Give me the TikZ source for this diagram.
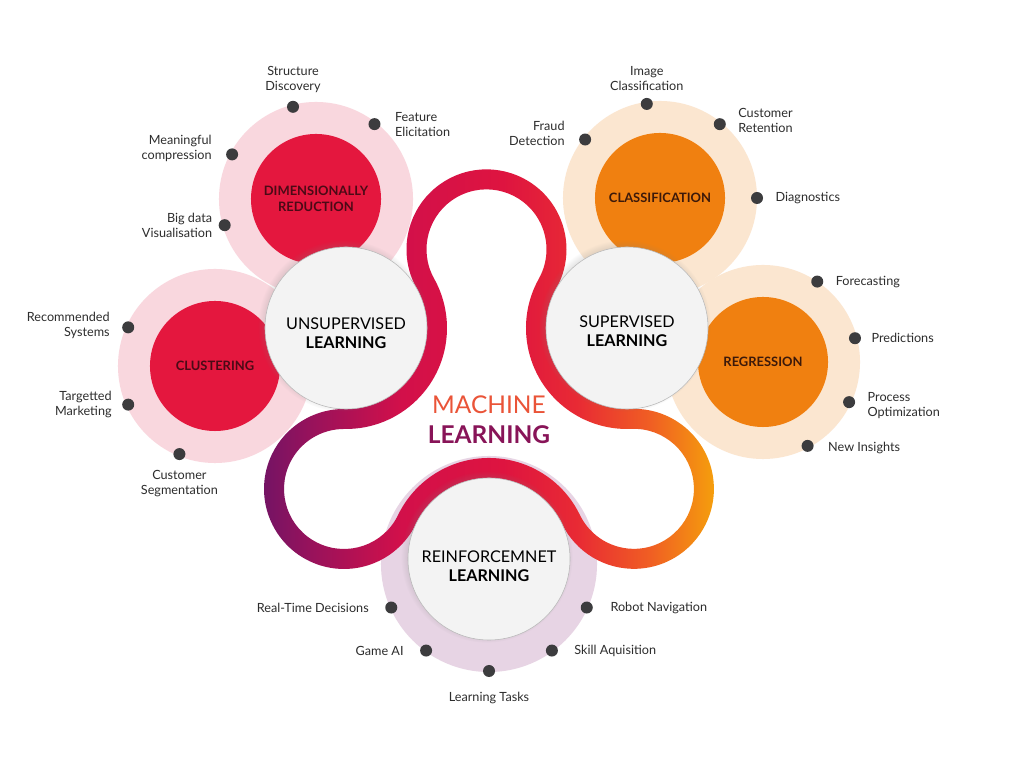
\documentclass[tikz,border=0pt]{standalone}
\usepackage{fontspec}
\setmainfont{Lato}
\usetikzlibrary{positioning, shadows}

\definecolor{ringpink}{RGB}{249,215,222}
\definecolor{corered}{RGB}{228,23,62}
\definecolor{ringpeach}{RGB}{251,230,208}
\definecolor{coreorange}{RGB}{240,128,16}
\definecolor{ringlilac}{RGB}{231,212,228}
\definecolor{learnwhite}{RGB}{243,243,243}
\definecolor{dotgray}{RGB}{60,60,62}
\definecolor{leafgray}{RGB}{45,45,45}
\definecolor{darkred}{RGB}{75,10,22}
\definecolor{darkbrown}{RGB}{60,25,10}
\definecolor{machred}{RGB}{234,84,56}
\definecolor{learnpurple}{RGB}{136,20,88}
% ribbon colours, left to right
\definecolor{rbA}{RGB}{108,20,102}
\definecolor{rbB}{RGB}{150,18,92}
\definecolor{rbC}{RGB}{210,16,74}
\definecolor{rbD}{RGB}{222,20,64}
\definecolor{rbE}{RGB}{232,42,52}
\definecolor{rbF}{RGB}{240,95,35}
\definecolor{rbG}{RGB}{245,160,12}

\pgfdeclarehorizontalshading{ribbonshade}{100bp}{color(0bp)=(rbA); color(25bp)=(rbA);
  color(31bp)=(rbB); color(41bp)=(rbC); color(52bp)=(rbD); color(60bp)=(rbE);
  color(68bp)=(rbF); color(75bp)=(rbG); color(100bp)=(rbG)}

\begin{document}
\begin{tikzpicture}[
    x=0.025cm, y=0.025cm,
    node distance=0.3cm,
    ring/.style={circle, minimum size=4.85cm, inner sep=0, outer sep=0},
    core/.style={circle, minimum size=3.25cm, inner sep=0, outer sep=0, align=center,
      font=\bfseries\fontsize{9.2}{11}\selectfont},
    learn/.style={circle, fill=learnwhite, draw=gray!55, line width=0.4pt, minimum size=4.05cm,
      inner sep=0,
      circular drop shadow={shadow xshift=-1.5pt, shadow yshift=1.5pt, shadow scale=1.06, opacity=0.35}},
    learntext/.style={align=center, inner sep=0, font=\fontsize{11.5}{14}\selectfont},
    dot/.style={circle, fill=dotgray, minimum size=0.3cm, inner sep=0},
    leaf/.style={inner sep=0, text=leafgray, font=\fontsize{9}{10.7}\selectfont}
  ]

  % Canvas
  \fill[white] (0,0) rectangle (1024,768);
  \useasboundingbox (0,0) rectangle (1024,768);

  % Outer rings
  \node (drring) [ring, fill=ringpink] at (316,569) {};
  \node (clring) [ring, fill=ringpink] at (215,402) {};
  \node (caring) [ring, fill=ringpeach] at (660,570) {};
  \node (rgring) [ring, fill=ringpeach] at (763,406) {};
  \node (rlring) [ring, fill=ringlilac, minimum size=5.4cm] at (489,204) {};

  % Inner circles
  \node (dimred) [core, fill=corered, text=darkred] at (drring) {DIMENSIONALLY\\REDUCTION};
  \node (cluster) [core, fill=corered, text=darkred] at (clring) {CLUSTERING};
  \node (classif) [core, fill=coreorange, text=darkbrown] at (caring) {CLASSIFICATION};
  \node (regress) [core, fill=coreorange, text=darkbrown] at (rgring) {REGRESSION};

  % Dots
  \path (drring.center) ++(104:95) node (sd) [dot] {};
  \path (drring.center) ++(52:95) node (fe) [dot] {};
  \path (drring.center) ++(152:95) node (mc) [dot] {};
  \path (drring.center) ++(196:95) node (bv) [dot] {};
  \path (caring.center) ++(98:95) node (ic) [dot] {};
  \path (caring.center) ++(51:95) node (cr) [dot] {};
  \path (caring.center) ++(142:95) node (fd) [dot] {};
  \path (caring.center) ++(0:97) node (dg) [dot] {};
  \path (clring.center) ++(156:95) node (rs) [dot] {};
  \path (clring.center) ++(204:95) node (tm) [dot] {};
  \path (clring.center) ++(248:95) node (cs) [dot] {};
  \path (rgring.center) ++(56:97) node (fc) [dot] {};
  \path (rgring.center) ++(14.5:95) node (pr) [dot] {};
  \path (rgring.center) ++(-25:95) node (po) [dot] {};
  \path (rgring.center) ++(-62:95) node (ni) [dot] {};
  \path (rlring.center) ++(204:107) node (rt) [dot] {};
  \path (rlring.center) ++(-24:107) node (rn) [dot] {};
  \path (rlring.center) ++(234:107) node (ga) [dot] {};
  \path (rlring.center) ++(-54:107) node (sa) [dot] {};
  \path (rlring.center) ++(270:107) node (lt) [dot] {};

  % Labels
  \node (sdtext) [leaf, align=center, above=0.18cm of sd] {Structure\\Discovery};
  \node (fetext) [leaf, align=left, right=0.35cm of fe] {Feature\\Elicitation};
  \node (mctext) [leaf, align=right, left=0.35cm of mc, yshift=0.16cm] {Meaningful\\compression};
  \node (bvtext) [leaf, align=right, left=0.15cm of bv] {Big data\\Visualisation};
  \node (ictext) [leaf, align=center, above=0.18cm of ic] {Image\\Classification};
  \node (crtext) [leaf, align=left, right=of cr, yshift=0.09cm] {Customer\\Retention};
  \node (fdtext) [leaf, align=right, left=0.35cm of fd, yshift=0.16cm] {Fraud\\Detection};
  \node (dgtext) [leaf, right=0.3cm of dg] {Diagnostics};
  \node (rstext) [leaf, align=right, left=of rs, yshift=0.06cm] {Recommended\\Systems};
  \node (tmtext) [leaf, align=right, left=0.25cm of tm] {Targetted\\Marketing};
  \node (cstext) [leaf, align=center, below=0.25cm of cs] {Customer\\Segmentation};
  \node (fctext) [leaf, right=of fc] {Forecasting};
  \node (prtext) [leaf, right=0.25cm of pr] {Predictions};
  \node (potext) [leaf, align=left, right=of po, yshift=-0.09cm] {Process\\Optimization};
  \node (nitext) [leaf, right=0.35cm of ni, yshift=-0.05cm] {New Insights};
  \node (rttext) [leaf, left=0.4cm of rt] {Real-Time Decisions};
  \node (rntext) [leaf, right=0.43cm of rn] {Robot Navigation};
  \node (gatext) [leaf, left=0.4cm of ga] {Game AI};
  \node (satext) [leaf, right=0.4cm of sa] {Skill Aquisition};
  \node (lttext) [leaf, below=0.36cm of lt] {Learning Tasks};

  % Ribbon
  \coordinate (lobetop) at (486.5,518.62);
  \coordinate (loberight) at (633.92,279.14);
  \coordinate (lobeleft) at (344.02,279.01);
  \shade[shading=ribbonshade, even odd rule]
    (lobetop) ++(209.23:80)
    arc[start angle=209.23, end angle=-29.23, radius=80]
    arc[start angle=150.77, end angle=272.46, radius=81]
    arc[start angle=92.46, end angle=-154.17, radius=80]
    arc[start angle=25.83, end angle=154.22, radius=81]
    arc[start angle=-25.78, end angle=-270.70, radius=80]
    arc[start angle=-90.70, end angle=29.23, radius=81] -- cycle
    (lobetop) ++(209.23:60)
    arc[start angle=209.23, end angle=-29.23, radius=60]
    arc[start angle=150.77, end angle=272.46, radius=101]
    arc[start angle=92.46, end angle=-154.17, radius=60]
    arc[start angle=25.83, end angle=154.22, radius=101]
    arc[start angle=-25.78, end angle=-270.70, radius=60]
    arc[start angle=-90.70, end angle=29.23, radius=101] -- cycle;

  % Learning types
  \node (unsup) [learn] at (346,440) {};
  \node (sup) [learn] at (627,440) {};
  \node (reinf) [learn] at (489,209) {};
  \node (unsuptext) [learntext, yshift=-0.13cm] at (unsup) {UNSUPERVISED\\\textbf{LEARNING}};
  \node (suptext) [learntext, yshift=-0.08cm] at (sup) {SUPERVISED\\\textbf{LEARNING}};
  \node (reinftext) [learntext, yshift=-0.18cm] at (reinf) {REINFORCEMNET\\\textbf{LEARNING}};

  % Title
  \node (ml) [align=center, inner sep=0, font=\fontsize{17.4}{21.5}\selectfont] at (489,348)
    {\textcolor{machred}{MACHINE}\\\textcolor{learnpurple}{\textbf{LEARNING}}};

\end{tikzpicture}
\end{document}
